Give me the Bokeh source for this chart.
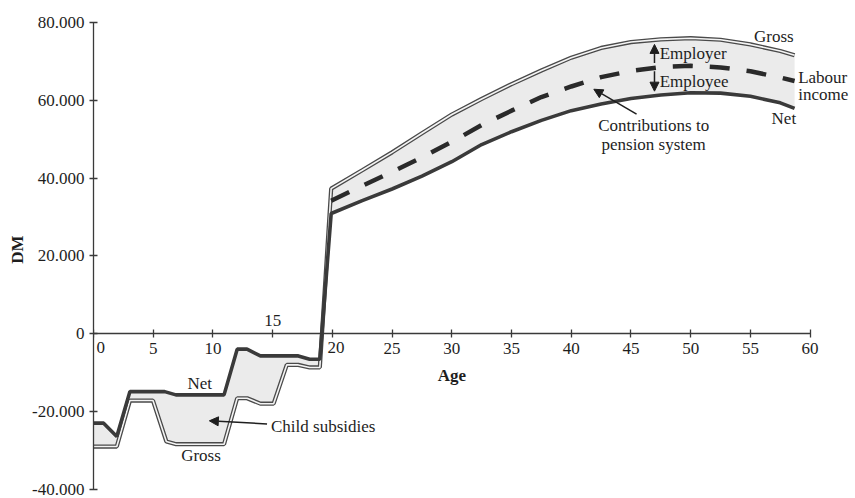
from bokeh.plotting import figure
from bokeh.models import Range1d, LinearAxis, FixedTicker, Arrow, NormalHead
from bokeh.core.properties import value
from bokeh.embed import file_html
from bokeh.resources import INLINE

# ---------------- data ----------------
# childhood (ages 0-19): net and gross income (negative = cost of child)
child_gross_age = [0, 1.95, 3.05, 4.98, 6.1, 6.92, 10.93, 12.03, 12.86, 13.97, 15.08, 16.18, 17.15, 18.1, 18.95]
child_gross = [-28900, -28900, -17100, -17100, -27600, -28300, -28300, -16500, -16500, -17900, -17900,
               -7950, -7950, -8600, -8600]
child_net_age = [0, 0.85, 1.95, 3.05, 5.96, 6.9, 10.93, 12.03, 12.85, 13.97, 17.15, 18.1, 18.95]
child_net = [-22900, -22900, -26300, -14800, -14800, -15640, -15640, -3900, -3900, -5640, -5640, -6500, -6500]

# working life (ages 20-59)
adult_age = [19.9, 22.5, 25, 27.5, 30, 32.5, 35, 37.5, 40, 42.5, 45, 47.5, 50, 52.5, 55, 57.5, 58.7]
adult_gross = [37300, 42000, 46600, 51500, 56300, 60300, 64100, 67600, 70900, 73400, 74900, 75600, 75900,
               75500, 74300, 72600, 71500]
adult_net = [30900, 34200, 37200, 40500, 44200, 48600, 51900, 54800, 57300, 59000, 60400, 61300, 61900,
             61800, 61000, 59300, 57900]
adult_labour = [34200, 38000, 41600, 45300, 49300, 53600, 57300, 60800, 63500, 65900, 67500, 68500, 68800,
                68400, 67400, 65800, 64900]

x_ticks = [0, 5, 10, 15, 20, 25, 30, 35, 40, 45, 50, 55, 60]
y_ticks = [-40000, -20000, 0, 20000, 40000, 60000, 80000]
y_tick_labels = ["-40.000", "-20.000", "0", "20.000", "40.000", "60.000", "80.000"]

FONT = "Liberation Serif"
INK = "#1e1e1e"
LINE = "#3a3a3a"
FILL = "#ebebeb"

p = figure(width=855, height=498,
           x_range=Range1d(0, 63.8), y_range=Range1d(-42233, 85569),
           min_border_left=93, min_border_right=0, min_border_top=0, min_border_bottom=0,
           x_axis_location=None,
           output_backend="svg", toolbar_location=None)
p.outline_line_color = None
p.background_fill_color = "white"
p.border_fill_color = "white"
p.grid.grid_line_color = None

# x axis crossing at zero, y axis on the left edge of the frame (x = 0)
xaxis = LinearAxis(fixed_location=0, bounds=(0, 60), ticker=FixedTicker(ticks=x_ticks))
xaxis.major_label_overrides = {0: "", 15: "", 20: ""}
xaxis.axis_label = "Age"
p.add_layout(xaxis, "below")
yaxis = p.yaxis[0]
yaxis.bounds = (-40000, 80000)
yaxis.ticker = FixedTicker(ticks=y_ticks)
yaxis.major_label_overrides = {t: l for t, l in zip(y_ticks, y_tick_labels)}
yaxis.axis_label = "DM"
for ax in (xaxis, yaxis):
    ax.axis_line_color = LINE
    ax.axis_line_width = 1.3
    ax.major_tick_line_color = LINE
    ax.major_tick_line_width = 1.3
    ax.major_tick_in = 4
    ax.major_tick_out = 4
    ax.minor_tick_line_color = None
    ax.major_label_text_font = FONT
    ax.major_label_text_font_size = "17px"
    ax.major_label_text_color = INK
    ax.major_label_standoff = 5
    ax.axis_label_text_font = FONT
    ax.axis_label_text_font_size = "17px"
    ax.axis_label_text_font_style = "bold"
    ax.axis_label_text_color = INK
xaxis.axis_label_standoff = 9
yaxis.axis_label_standoff = 2

# shaded bands
gross_x = child_gross_age + adult_age
gross_y = child_gross + adult_gross
net_x = child_net_age + adult_age
net_y = child_net + adult_net
p.patch(x=gross_x + net_x[::-1], y=gross_y + net_y[::-1], fill_color=FILL, line_color=None)

# gross: double line
p.line(x=gross_x, y=gross_y, line_color="#4a4a4a", line_width=4.2)
p.line(x=gross_x, y=gross_y, line_color="#f4f4f4", line_width=1.6)
# net: thick line
p.line(x=net_x, y=net_y, line_color=LINE, line_width=3.6)
# labour income: dashed
p.line(x=adult_age, y=adult_labour, line_color="#2a2a2a", line_width=4.5, line_dash="20 17")

# tick labels placed by hand (0, 15, 20 moved off the curves)
p.text(x=[0.6, 20.3], y=[-3460, -3460], text=["0", "20"], text_font=value(FONT),
       text_font_size="17px", text_color=INK, text_align="center", text_baseline="middle")
p.text(x=[15.0], y=[3340], text=["15"], text_font=value(FONT),
       text_font_size="17px", text_color=INK, text_align="center", text_baseline="middle")

# annotations
def label(x, y, t, align="left", size="17px"):
    p.text(x=[x], y=[y], text=[t], text_font=value(FONT), text_font_size=size,
           text_color=INK, text_align=align, text_baseline="middle")

label(55.3, 76400, "Gross")
label(59.0, 65900, "Labour")
label(59.0, 61500, "income")
label(57.8, 55400, "Net", align="center")
label(47.4, 71900, "Employer")
label(47.4, 64900, "Employee")
label(46.9, 53600, "Contributions to", align="center")
label(46.9, 48500, "pension system", align="center")
label(8.9, -12800, "Net", align="center")
label(9.0, -31300, "Gross", align="center")
label(14.86, -23800, "Child subsidies")

def arrow(x0, y0, x1, y1):
    p.add_layout(Arrow(end=NormalHead(size=9, fill_color=INK, line_color=INK),
                       x_start=x0, y_start=y0, x_end=x1, y_end=y1,
                       line_color=INK, line_width=1.5))

arrow(46.97, 69500, 46.97, 74300)
arrow(46.97, 67400, 46.97, 62300)
arrow(45.47, 56400, 41.89, 62800)
arrow(14.53, -23100, 9.70, -22300)

open("out.html", "w").write(file_html(p, INLINE))
